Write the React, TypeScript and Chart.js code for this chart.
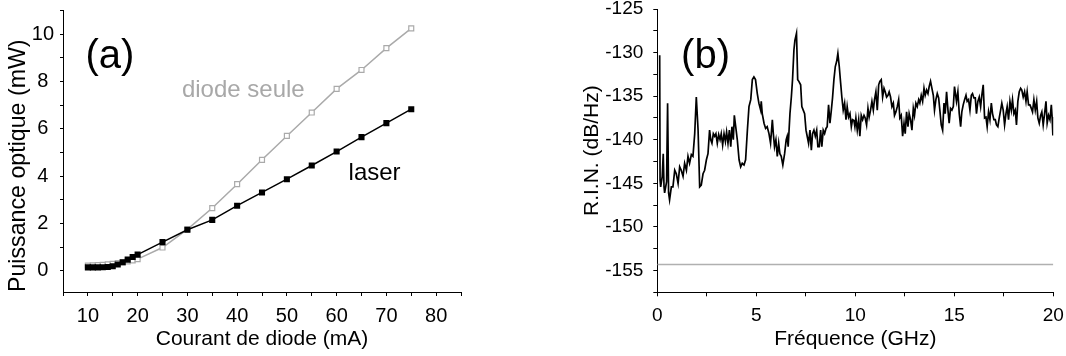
import React, { useEffect, useRef } from 'react';
import { Chart, registerables } from 'chart.js';

Chart.register(...registerables);

const FONT = "'Liberation Sans', Arial, Helvetica, sans-serif";

// ---------- Panel (a) ----------
const currentMA = [10, 11, 12, 13, 14, 15, 16, 17, 18, 19, 20, 25, 30, 35, 40, 45, 50, 55, 60, 65, 70, 75];
const laserMW = [0.14, 0.14, 0.14, 0.15, 0.16, 0.19, 0.26, 0.36, 0.47, 0.58, 0.68, 1.21, 1.73, 2.15, 2.75, 3.31, 3.87, 4.45, 5.04, 5.65, 6.24, 6.83];
const diodeMW = [0.22, 0.23, 0.24, 0.25, 0.27, 0.29, 0.32, 0.35, 0.39, 0.44, 0.49, 0.98, 1.75, 2.65, 3.66, 4.69, 5.7, 6.69, 7.69, 8.49, 9.41, 10.25];
const currentTicks = [5, 10, 15, 20, 25, 30, 35, 40, 45, 50, 55, 60, 65, 70, 75, 80, 85];
const currentLabels = [10, 20, 30, 40, 50, 60, 70, 80];
const powerTicks = [0, 1, 2, 3, 4, 5, 6, 7, 8, 9, 10, 11];
const powerLabels = [0, 2, 4, 6, 8, 10];

// ---------- Panel (b) ----------
const freqGHz = [
  0.12, 0.14, 0.17, 0.25, 0.30, 0.34, 0.37, 0.47, 0.52, 0.57,
  0.62, 0.71, 0.79, 0.88, 0.96, 1.05, 1.13, 1.21, 1.30, 1.38,
  1.47, 1.55, 1.63, 1.72, 1.80, 1.89, 1.97, 2.06, 2.14, 2.22,
  2.31, 2.39, 2.48, 2.56, 2.64, 2.70, 2.76, 2.83, 2.90, 2.96,
  3.03, 3.10, 3.17, 3.23, 3.30, 3.37, 3.44, 3.50, 3.57, 3.64,
  3.71, 3.77, 3.84, 3.89, 3.96, 4.04, 4.13, 4.21, 4.29, 4.38,
  4.46, 4.55, 4.63, 4.72, 4.80, 4.88, 4.96, 5.05, 5.13, 5.22,
  5.25, 5.30, 5.39, 5.47, 5.55, 5.64, 5.72, 5.81, 5.86, 5.92,
  5.99, 6.06, 6.13, 6.19, 6.26, 6.34, 6.43, 6.51, 6.56, 6.61,
  6.70, 6.77, 6.83, 6.90, 6.95, 7.03, 7.09, 7.15, 7.24, 7.30,
  7.37, 7.44, 7.51, 7.57, 7.64, 7.71, 7.78, 7.84, 7.91, 7.98,
  8.05, 8.11, 8.18, 8.25, 8.31, 8.38, 8.45, 8.52, 8.58, 8.65,
  8.72, 8.79, 8.85, 8.92, 8.99, 9.06, 9.12, 9.19, 9.26, 9.32,
  9.39, 9.46, 9.53, 9.59, 9.66, 9.73, 9.80, 9.86, 9.93, 9.98,
  10.03, 10.10, 10.17, 10.23, 10.30, 10.37, 10.44, 10.50, 10.57, 10.64,
  10.70, 10.77, 10.84, 10.91, 10.97, 11.04, 11.11, 11.18, 11.24, 11.31,
  11.38, 11.45, 11.51, 11.58, 11.65, 11.71, 11.78, 11.85, 11.92, 11.98,
  12.05, 12.12, 12.19, 12.25, 12.32, 12.39, 12.46, 12.52, 12.59, 12.66,
  12.72, 12.79, 12.86, 12.93, 12.99, 13.06, 13.13, 13.20, 13.26, 13.33,
  13.40, 13.47, 13.53, 13.60, 13.67, 13.73, 13.80, 13.87, 13.94, 14.00,
  14.07, 14.14, 14.21, 14.27, 14.34, 14.41, 14.48, 14.54, 14.61, 14.68,
  14.74, 14.81, 14.88, 14.95, 15.01, 15.11, 15.18, 15.25, 15.32, 15.38,
  15.45, 15.52, 15.59, 15.65, 15.72, 15.79, 15.86, 15.92, 15.99, 16.06,
  16.12, 16.19, 16.26, 16.33, 16.39, 16.46, 16.53, 16.60, 16.66, 16.73,
  16.80, 16.87, 16.93, 17.00, 17.07, 17.13, 17.20, 17.27, 17.34, 17.40,
  17.47, 17.54, 17.61, 17.67, 17.74, 17.81, 17.88, 17.94, 18.01, 18.08,
  18.14, 18.21, 18.28, 18.35, 18.41, 18.48, 18.55, 18.62, 18.68, 18.75,
  18.82, 18.89, 18.95, 19.02, 19.09, 19.16, 19.22, 19.29, 19.36, 19.42,
  19.49, 19.56, 19.63, 19.69, 19.76, 19.83, 19.90, 19.94, 19.98,
];
const rinDB = [
  -130.3, -144.6, -145.4, -144.2, -141.6, -145.4, -146.1, -144.8, -135.8, -146.1,
  -146.9, -145.4, -145.4, -143.5, -143.9, -145.0, -143.1, -143.5, -144.2, -142.7,
  -143.5, -141.9, -142.7, -141.7, -141.9, -139.3, -135.1, -138.9, -145.4, -145.2,
  -143.9, -143.5, -142.3, -141.6, -138.9, -140.0, -140.4, -139.3, -139.6, -139.3,
  -140.4, -139.4, -140.0, -139.3, -140.6, -139.3, -140.2, -139.1, -140.4, -138.9,
  -140.8, -138.5, -140.0, -137.2, -138.5, -140.0, -142.3, -143.1, -142.7, -142.9,
  -142.3, -138.9, -136.2, -135.4, -133.1, -132.8, -133.1, -134.7, -135.8, -136.6,
  -135.6, -137.0, -138.1, -138.7, -138.5, -139.3, -140.4, -137.7, -139.3, -140.8,
  -140.0, -141.9, -140.4, -141.6, -141.9, -142.9, -141.6, -140.0, -139.6, -140.8,
  -137.0, -135.1, -133.1, -129.7, -128.6, -127.8, -133.1, -133.3, -133.7, -136.2,
  -136.6, -137.0, -138.9, -139.6, -140.4, -138.9, -141.2, -139.3, -138.9, -139.6,
  -138.9, -140.8, -140.8, -138.9, -140.8, -138.9, -139.3, -138.7, -138.5, -136.0,
  -138.1, -136.6, -135.2, -133.1, -131.6, -131.0, -130.1, -131.6, -133.5, -135.1,
  -136.6, -135.8, -137.7, -136.2, -137.4, -137.0, -138.5, -137.7, -137.8, -138.5,
  -137.5, -138.9, -137.7, -139.6, -137.2, -137.7, -137.2, -137.5, -138.3, -136.4,
  -137.4, -136.6, -135.6, -136.6, -135.4, -134.5, -136.6, -133.7, -133.3, -133.1,
  -135.1, -134.1, -134.5, -135.1, -134.9, -134.5, -135.1, -136.2, -135.8, -137.2,
  -136.8, -136.2, -135.4, -137.5, -137.2, -139.6, -138.1, -139.3, -136.8, -138.5,
  -137.0, -137.7, -138.9, -136.4, -137.2, -135.8, -136.2, -135.4, -135.8, -134.9,
  -135.6, -134.1, -134.9, -134.3, -134.7, -133.9, -133.3, -134.1, -134.9, -136.6,
  -135.4, -134.7, -135.2, -136.6, -138.3, -138.9, -135.8, -137.0, -134.5, -136.6,
  -138.1, -136.4, -136.6, -136.2, -133.9, -135.6, -134.5, -137.0, -138.5, -136.8,
  -136.0, -135.4, -134.9, -135.6, -135.4, -136.6, -134.9, -134.7, -135.2, -135.2,
  -137.0, -135.6, -135.1, -136.2, -134.9, -133.7, -137.5, -137.4, -138.5, -136.8,
  -137.7, -135.8, -137.0, -137.7, -137.7, -138.3, -138.5, -137.5, -136.6, -135.8,
  -136.6, -138.3, -137.0, -136.2, -137.7, -135.6, -136.6, -135.4, -137.0, -136.6,
  -138.3, -135.6, -134.5, -134.1, -134.3, -135.1, -134.5, -135.6, -134.5, -136.0,
  -136.0, -136.4, -136.8, -135.4, -136.6, -135.6, -137.5, -138.1, -137.2, -136.8,
  -138.3, -137.0, -135.6, -138.1, -137.2, -137.7, -136.0, -137.4, -139.5,
];
const shotFreqGHz = [0, 20];
const shotDB = [-154.3, -154.3];
const freqTicks = [0, 2.5, 5, 7.5, 10, 12.5, 15, 17.5, 20];
const freqLabels = [0, 5, 10, 15, 20];
const rinTicks = [-157.5, -155, -152.5, -150, -147.5, -145, -142.5, -140, -137.5, -135, -132.5, -130, -127.5, -125];
const rinLabels = [-155, -150, -145, -140, -135, -130, -125];

type Note = { text: string; x: number; y: number; size: number; color: string };

const notesPlugin = (notes: Note[]) => ({
  id: 'notes',
  afterDatasetsDraw(chart: any) {
    const { ctx, scales } = chart;
    ctx.save();
    for (const n of notes) {
      ctx.font = `${n.size}px ${FONT}`;
      ctx.fillStyle = n.color;
      ctx.textAlign = 'left';
      ctx.textBaseline = 'alphabetic';
      ctx.fillText(n.text, scales.x.getPixelForValue(n.x), scales.y.getPixelForValue(n.y));
    }
    ctx.restore();
  },
});

function axis(opts: {
  min: number; max: number; ticks: number[]; labels: number[]; title: string;
  vertical: boolean; size: number; tickLen: number; pad: number; titlePad: any; fontSize: number;
  crossAlign?: string; titleSize?: number; titleAlign?: string;
}) {
  return {
    type: 'linear',
    min: opts.min,
    max: opts.max,
    afterBuildTicks: (s: any) => { s.ticks = opts.ticks.map((v) => ({ value: v })); },
    afterFit: (s: any) => {
      if (opts.vertical) { s.width = opts.size; s.paddingTop = 0; s.paddingBottom = 0; }
      else { s.height = opts.size; s.paddingLeft = 0; s.paddingRight = 0; }
    },
    grid: { drawOnChartArea: false, drawTicks: true, tickLength: opts.tickLen, color: '#000', tickColor: '#000', lineWidth: 1 },
    border: { display: true, color: '#000', width: 1 },
    ticks: {
      autoSkip: false,
      maxRotation: 0,
      minRotation: 0,
      padding: opts.pad,
      color: '#000',
      crossAlign: opts.crossAlign || 'near',
      font: { family: FONT, size: opts.fontSize },
      callback: (v: number) => (opts.labels.includes(v) ? String(v) : ''),
    },
    title: {
      display: true,
      text: opts.title,
      color: '#000',
      align: opts.titleAlign || 'center',
      font: { family: FONT, size: opts.titleSize || 21 },
      padding: opts.titlePad,
    },
  };
}

export default function App() {
  const refA = useRef<HTMLCanvasElement>(null);
  const refB = useRef<HTMLCanvasElement>(null);

  useEffect(() => {
    const chartA = new Chart(refA.current as HTMLCanvasElement, {
      type: 'line',
      data: {
        datasets: [
          {
            label: 'laser',
            data: currentMA.map((c, i) => ({ x: c, y: laserMW[i] })),
            borderColor: '#000',
            backgroundColor: '#000',
            borderWidth: 1.5,
            pointStyle: 'rect',
            pointRadius: 4.3,
            pointBorderWidth: 0,
            pointBackgroundColor: '#000',
            pointBorderColor: '#000',
          },
          {
            label: 'diode seule',
            data: currentMA.map((c, i) => ({ x: c, y: diodeMW[i] })),
            borderColor: '#aaaaaa',
            backgroundColor: '#ffffff',
            borderWidth: 1.5,
            pointStyle: 'rect',
            pointRadius: 3.5,
            pointBorderWidth: 1.2,
            pointBackgroundColor: '#ffffff',
            pointBorderColor: '#aaaaaa',
          },
        ],
      } as any,
      options: {
        animation: false,
        responsive: false,
        layout: { padding: { left: 0, top: 10.6, right: 19, bottom: 0 } },
        plugins: { legend: { display: false }, tooltip: { enabled: false } },
        scales: {
          x: axis({ min: 5, max: 85, ticks: currentTicks, labels: currentLabels, title: 'Courant de diode (mA)', vertical: false, size: 64, tickLen: 4, pad: 8, titlePad: { top: 0, bottom: 4.4 }, fontSize: 20 }),
          y: axis({ min: -0.9, max: 11, ticks: powerTicks, labels: powerLabels, title: 'Puissance optique (mW)', vertical: true, size: 63, tickLen: 3, pad: 6, titlePad: { top: 4.4, bottom: 0 }, fontSize: 20, crossAlign: 'center', titleSize: 23.2, titleAlign: 'start' }),
        } as any,
      },
      plugins: [notesPlugin([
        { text: '(a)', x: 9.5, y: 8.58, size: 40, color: '#000' },
        { text: 'diode seule', x: 28.9, y: 7.36, size: 24, color: '#a8a8a8' },
        { text: 'laser', x: 62.4, y: 3.84, size: 24, color: '#000' },
      ])],
    } as any);

    const chartB = new Chart(refB.current as HTMLCanvasElement, {
      type: 'line',
      data: {
        datasets: [
          {
            label: 'R.I.N.',
            data: freqGHz.map((f, i) => ({ x: f, y: rinDB[i] })),
            borderColor: '#000',
            borderWidth: 1.7,
            pointRadius: 0,
            tension: 0,
          },
          {
            label: 'bruit quantique',
            data: shotFreqGHz.map((f, i) => ({ x: f, y: shotDB[i] })),
            borderColor: '#b0b0b0',
            borderWidth: 1.5,
            pointRadius: 0,
          },
        ],
      } as any,
      options: {
        animation: false,
        responsive: false,
        layout: { padding: { left: 0, top: 9, right: 12.7, bottom: 0 } },
        plugins: { legend: { display: false }, tooltip: { enabled: false } },
        scales: {
          x: axis({ min: 0, max: 20, ticks: freqTicks, labels: freqLabels, title: 'Fréquence (GHz)', vertical: false, size: 63.7, tickLen: 4, pad: 8, titlePad: { top: 0, bottom: 4.4 }, fontSize: 19 }),
          y: axis({ min: -157.5, max: -125, ticks: rinTicks, labels: rinLabels, title: 'R.I.N. (dB/Hz)', vertical: true, size: 117.3, tickLen: 4, pad: 10, titlePad: { top: 39.4, bottom: 0 }, fontSize: 19 }),
        } as any,
      },
      plugins: [notesPlugin([
        { text: '(b)', x: 1.2, y: -131.77, size: 40, color: '#000' },
      ])],
    } as any);

    return () => {
      chartA.destroy();
      chartB.destroy();
    };
  }, []);

  return (
    <div style={{ position: 'absolute', left: 0, top: 0, width: 1066, height: 356, background: '#ffffff' }}>
      <canvas ref={refA} width={480} height={356} style={{ position: 'absolute', left: 0, top: 0 }} />
      <canvas ref={refB} width={526} height={356} style={{ position: 'absolute', left: 540, top: 0 }} />
    </div>
  );
}
